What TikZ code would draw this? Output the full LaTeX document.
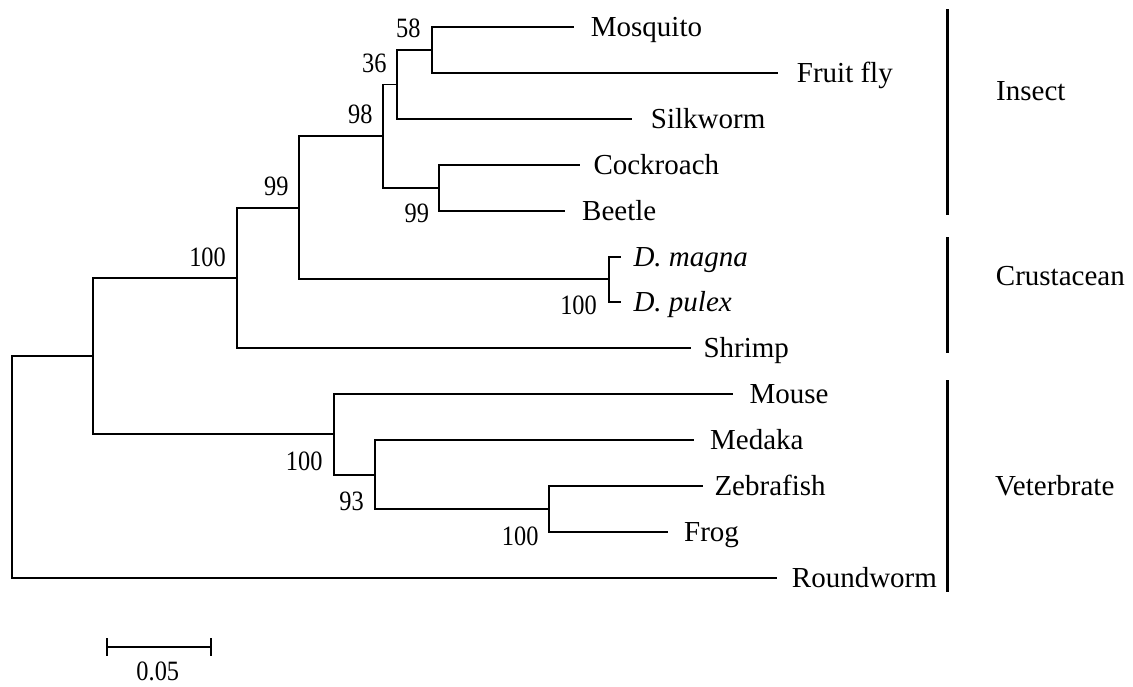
\documentclass[tikz,border=0pt]{standalone}
\usepackage{fontspec}
\setmainfont{Liberation Serif}
\usepackage{graphicx}
\tikzset{
  branch/.style={line width=1.8pt, line cap=rect},
  groupbar/.style={line width=3pt},
  taxon/.style={inner sep=0pt, anchor=base west, font=\fontsize{29}{34}\selectfont},
  boot/.style={inner sep=0pt, anchor=base east, font=\fontsize{28}{32}\selectfont},
  grouplab/.style={inner sep=0pt, anchor=base west, font=\fontsize{29}{34}\selectfont},
}
\newcommand{\bs}[1]{\scalebox{0.87}[1]{#1}}
\begin{document}
\begin{tikzpicture}[x=1pt,y=-1pt]
\useasboundingbox (0,0) rectangle (1133,686);
% internal nodes
\coordinate (r) at (11.7,467);
\coordinate (a) at (93.3,356);
\coordinate (n100) at (237,277.7);
\coordinate (n99) at (299,207.7);
\coordinate (n98) at (383.3,136);
\coordinate (n36) at (396.7,84.5);
\coordinate (n58) at (431.7,50);
\coordinate (c99) at (439.3,187.8);
\coordinate (d100) at (609.3,279.3);
\coordinate (v100) at (333.7,434.3);
\coordinate (n93) at (375,474.7);
\coordinate (zf100) at (549.3,509);
% tips
\coordinate (tMos) at (573.3,27);
\coordinate (tFly) at (776.7,73);
\coordinate (tSilk) at (630.7,119);
\coordinate (tCock) at (579.3,165);
\coordinate (tBeet) at (564,210.7);
\coordinate (tMag) at (620,256.7);
\coordinate (tPul) at (620,301.7);
\coordinate (tShr) at (690,348.3);
\coordinate (tMou) at (731.7,394.3);
\coordinate (tMed) at (693.3,440.3);
\coordinate (tZeb) at (702.3,486.3);
\coordinate (tFrog) at (666.7,531.7);
\coordinate (tRound) at (776,577.7);
% branches
\draw[branch] (r) |- (a);
\draw[branch] (r) |- (tRound);
\draw[branch] (a) |- (n100);
\draw[branch] (a) |- (v100);
\draw[branch] (n100) |- (n99);
\draw[branch] (n100) |- (tShr);
\draw[branch] (n99) |- (n98);
\draw[branch] (n99) |- (d100);
\draw[branch] (n98) |- (n36);
\draw[branch] (n98) |- (c99);
\draw[branch] (n36) |- (n58);
\draw[branch] (n36) |- (tSilk);
\draw[branch] (n58) |- (tMos);
\draw[branch] (n58) |- (tFly);
\draw[branch] (c99) |- (tCock);
\draw[branch] (c99) |- (tBeet);
\draw[branch] (d100) |- (tMag);
\draw[branch] (d100) |- (tPul);
\draw[branch] (v100) |- (tMou);
\draw[branch] (v100) |- (n93);
\draw[branch] (n93) |- (tMed);
\draw[branch] (n93) |- (zf100);
\draw[branch] (zf100) |- (tZeb);
\draw[branch] (zf100) |- (tFrog);
% taxon labels
\node[taxon] (lMos) at (590.7,36.3) {Mosquito};
\node[taxon] (lFly) at (796.7,82.3) {Fruit fly};
\node[taxon] (lSilk) at (650.7,128.3) {Silkworm};
\node[taxon] (lCock) at (593.3,174.3) {Cockroach};
\node[taxon] (lBeet) at (582,220) {Beetle};
\node[taxon] (lMag) at (633.3,266) {\itshape D. magna};
\node[taxon] (lPul) at (633.3,311) {\itshape D. pulex};
\node[taxon] (lShr) at (703.3,357.6) {Shrimp};
\node[taxon] (lMou) at (749.3,403.6) {Mouse};
\node[taxon] (lMed) at (710,449.6) {Medaka};
\node[taxon] (lZeb) at (714.3,495.6) {Zebrafish};
\node[taxon] (lFrog) at (684,541) {Frog};
\node[taxon] (lRound) at (791.7,587) {Roundworm};
% bootstrap values
\node[boot] (b58) at (420.7,37.3) {\bs{58}};
\node[boot] (b36) at (386.7,72.7) {\bs{36}};
\node[boot] (b98) at (372.7,123.3) {\bs{98}};
\node[boot] (b99a) at (288.7,195.7) {\bs{99}};
\node[boot] (b100a) at (226,266.7) {\bs{100}};
\node[boot] (b99b) at (429.3,222.7) {\bs{99}};
\node[boot] (b100d) at (597,314) {\bs{100}};
\node[boot] (b100v) at (322.7,470) {\bs{100}};
\node[boot] (b93) at (364,510) {\bs{93}};
\node[boot] (b100z) at (538.7,545) {\bs{100}};
% group bars
\draw[groupbar] (947.7,9.3) -- (947.7,215);
\draw[groupbar] (947.7,237.3) -- (947.7,353.3);
\draw[groupbar] (947.7,380) -- (947.7,591.7);
\node[grouplab] (gIns) at (996,100) {Insect};
\node[grouplab] (gCru) at (995.7,285.7) {Crustacean};
\node[grouplab] (gVer) at (995,495) {Veterbrate};
% scale bar
\draw[branch] (106.7,647.3) -- (211,647.3);
\draw[branch] (106.7,639.3) -- (106.7,655.3);
\draw[branch] (211,639.3) -- (211,655.3);
\node[boot, anchor=base] (scale) at (157.8,680) {\bs{0.05}};
\end{tikzpicture}
\end{document}
